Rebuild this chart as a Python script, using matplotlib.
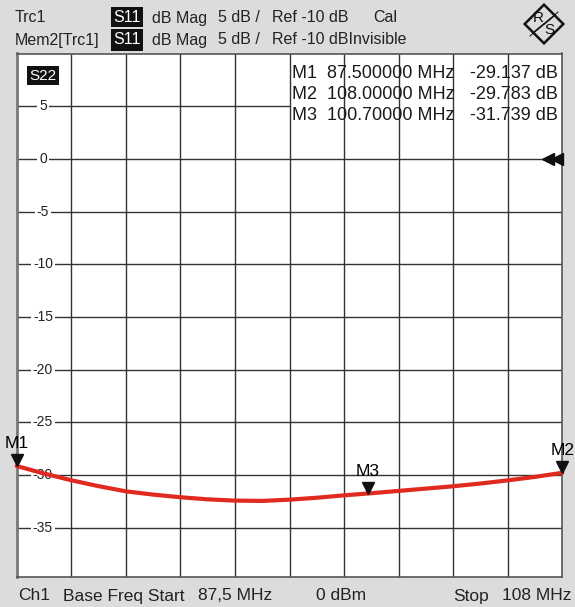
import numpy as np
import matplotlib.pyplot as plt
from matplotlib.patches import Rectangle, Polygon
from matplotlib.transforms import offset_copy, blended_transform_factory

plt.rcParams['font.family'] = ['Liberation Sans', 'DejaVu Sans']

# trace S22 (MHz, dB)
freq_mhz = [87.5, 88.525, 89.55, 90.575, 91.6, 92.625, 93.65, 94.675, 95.7,
            96.725, 97.75, 98.775, 99.8, 100.825, 101.85, 102.875, 103.9,
            104.925, 105.95, 106.975, 108.0]
s22_db = [-29.137, -29.85, -30.49, -31.05, -31.54, -31.85, -32.1, -32.3, -32.42,
          -32.45, -32.33, -32.15, -31.92, -31.72, -31.5, -31.28, -31.06,
          -30.8, -30.5, -30.17, -29.783]

marker_names = ['M1', 'M2', 'M3']
marker_freq = [87.5, 108.0, 100.7]
marker_db = [-29.137, -29.783, -31.739]
marker_freq_text = ['87.500000 MHz', '108.00000 MHz', '100.70000 MHz']
marker_db_text = ['-29.137 dB', '-29.783 dB', '-31.739 dB']

y_ticks = [5, 0, -5, -10, -15, -20, -25, -30, -35]
f_start, f_stop = 87.5, 108.0
db_top, db_bottom = 10, -39.64
ref_arrow_db = 0

W, H = 575, 607
BG = '#dcdcdc'
GRID = '#333333'
INK = '#1a1a1a'


def fx(x):
    return x / W


def fy(y):
    return 1 - y / H


fig = plt.figure(figsize=(W / 100, H / 100), dpi=100, facecolor=BG)
ax = fig.add_axes([fx(16.7), fy(576.7), 545.6 / W, 523.2 / H])
ax.set_facecolor('white')
ax.set_xlim(f_start, f_stop)
ax.set_ylim(db_bottom, db_top)
ax.set_xticks([])
ax.set_yticks([])
for s in ax.spines.values():
    s.set_color('#555555')
    s.set_linewidth(1.2)
ax.spines['left'].set_color('#777777')
ax.spines['left'].set_linewidth(2)

# grid
for f in np.linspace(f_start, f_stop, 11)[1:-1]:
    ax.axvline(f, color=GRID, lw=1, zorder=2)
btr = blended_transform_factory(ax.transAxes, ax.transData)
for v in y_ticks:
    ax.axhline(v, color=GRID, lw=1, zorder=0.5)
    ax.text(0.048, v, str(v), transform=btr, ha='center', va='center',
            fontsize=10, color='#222222', zorder=1,
            bbox=dict(fc='white', ec='none', pad=1.5))

# marker table covers the horizontal grid line
ax.add_patch(Rectangle(((291 - 16.7) / 545.6, 3.5), 1, 3, transform=btr,
                       fc='white', ec='none', zorder=1))
row_base = [78, 99, 120]
for name, ft, dt, by in zip(marker_names, marker_freq_text, marker_db_text, row_base):
    fig.text(fx(292), fy(by), name + '  ' + ft, fontsize=13, color=INK,
             ha='left', va='baseline')
    fig.text(fx(558), fy(by), dt, fontsize=13, color=INK, ha='right',
             va='baseline')

# trace
ax.plot(freq_mhz, s22_db, color='#e02a1f', lw=3, zorder=3,
        solid_capstyle='round', clip_on=False)

# markers
tri = offset_copy(ax.transData, fig=fig, x=0, y=4.2, units='points')
ax.plot(marker_freq, marker_db, 'v', ms=9, color='#111111', transform=tri,
        clip_on=False, zorder=4)
for name, f, v in zip(marker_names, marker_freq, marker_db):
    ax.annotate(name, (f, v), xytext=(0, 16), textcoords='offset points',
                ha='center', va='center', fontsize=12.5, annotation_clip=False,
                zorder=5)

# reference arrows
ax.plot([0.974, 0.991], [ref_arrow_db, ref_arrow_db], '<', ms=8,
        color='#111111', transform=btr, clip_on=False, zorder=4)

# trace label
fig.text(fx(43), fy(75.5), 'S22', fontsize=11, color='white', ha='center',
         va='center', bbox=dict(fc='#111111', ec='none', pad=1.5))

# header
for y0, y1 in [(7, 27), (29, 51)]:
    fig.patches.append(Rectangle((fx(111), fy(y1)), 32 / W, (y1 - y0) / H,
                                 transform=fig.transFigure, fc='#111111',
                                 ec='none'))
hdr = dict(fontsize=11.5, va='center', ha='left', color='#222222')
fig.text(fx(15), fy(18), 'Trc1', **hdr)
fig.text(fx(15), fy(40), 'Mem2[Trc1]', **hdr)
for yy in (18, 40):
    fig.text(fx(113), fy(yy), 'S11', fontsize=11.5, va='center', ha='left',
             color='white')
    fig.text(fx(152), fy(yy), 'dB Mag', **hdr)
    fig.text(fx(218), fy(yy), '5 dB /', **hdr)
fig.text(fx(272), fy(18), 'Ref -10 dB', **hdr)
fig.text(fx(373), fy(18), 'Cal', **hdr)
fig.text(fx(272), fy(40), 'Ref -10 dBInvisible', **hdr)

# footer
ftr = dict(fontsize=12.5, va='center', ha='left', color='#222222')
fig.text(fx(18), fy(596), 'Ch1', **ftr)
fig.text(fx(63), fy(596), 'Base Freq Start', **ftr)
fig.text(fx(198), fy(596), '87,5 MHz', **ftr)
fig.text(fx(316), fy(596), '0 dBm', **ftr)
fig.text(fx(453), fy(596), 'Stop', **ftr)
fig.text(fx(571), fy(596), '108 MHz', fontsize=12.5, va='center', ha='right',
         color='#222222')

# R&S logo
lax = fig.add_axes([fx(523), fy(45), 42 / W, 42 / H])
lax.set_xlim(-1, 1)
lax.set_ylim(-1, 1)
lax.axis('off')
lax.add_patch(Polygon([[0, 0.92], [0.92, 0], [0, -0.92], [-0.92, 0]],
                      closed=True, fc='none', ec='#111111', lw=1.8))
lax.text(-0.25, 0.28, 'R', fontsize=11, ha='center', va='center',
         color='#111111')
lax.text(0.25, -0.3, 'S', fontsize=11, ha='center', va='center',
         color='#111111')
for d in (-0.12, 0.0, 0.12):
    lax.plot([-0.55 + d, 0.55 + d], [-0.45 + d, 0.45 + d], color='#111111',
             lw=0.7)

fig.savefig('out.png', dpi=100, facecolor=BG)
